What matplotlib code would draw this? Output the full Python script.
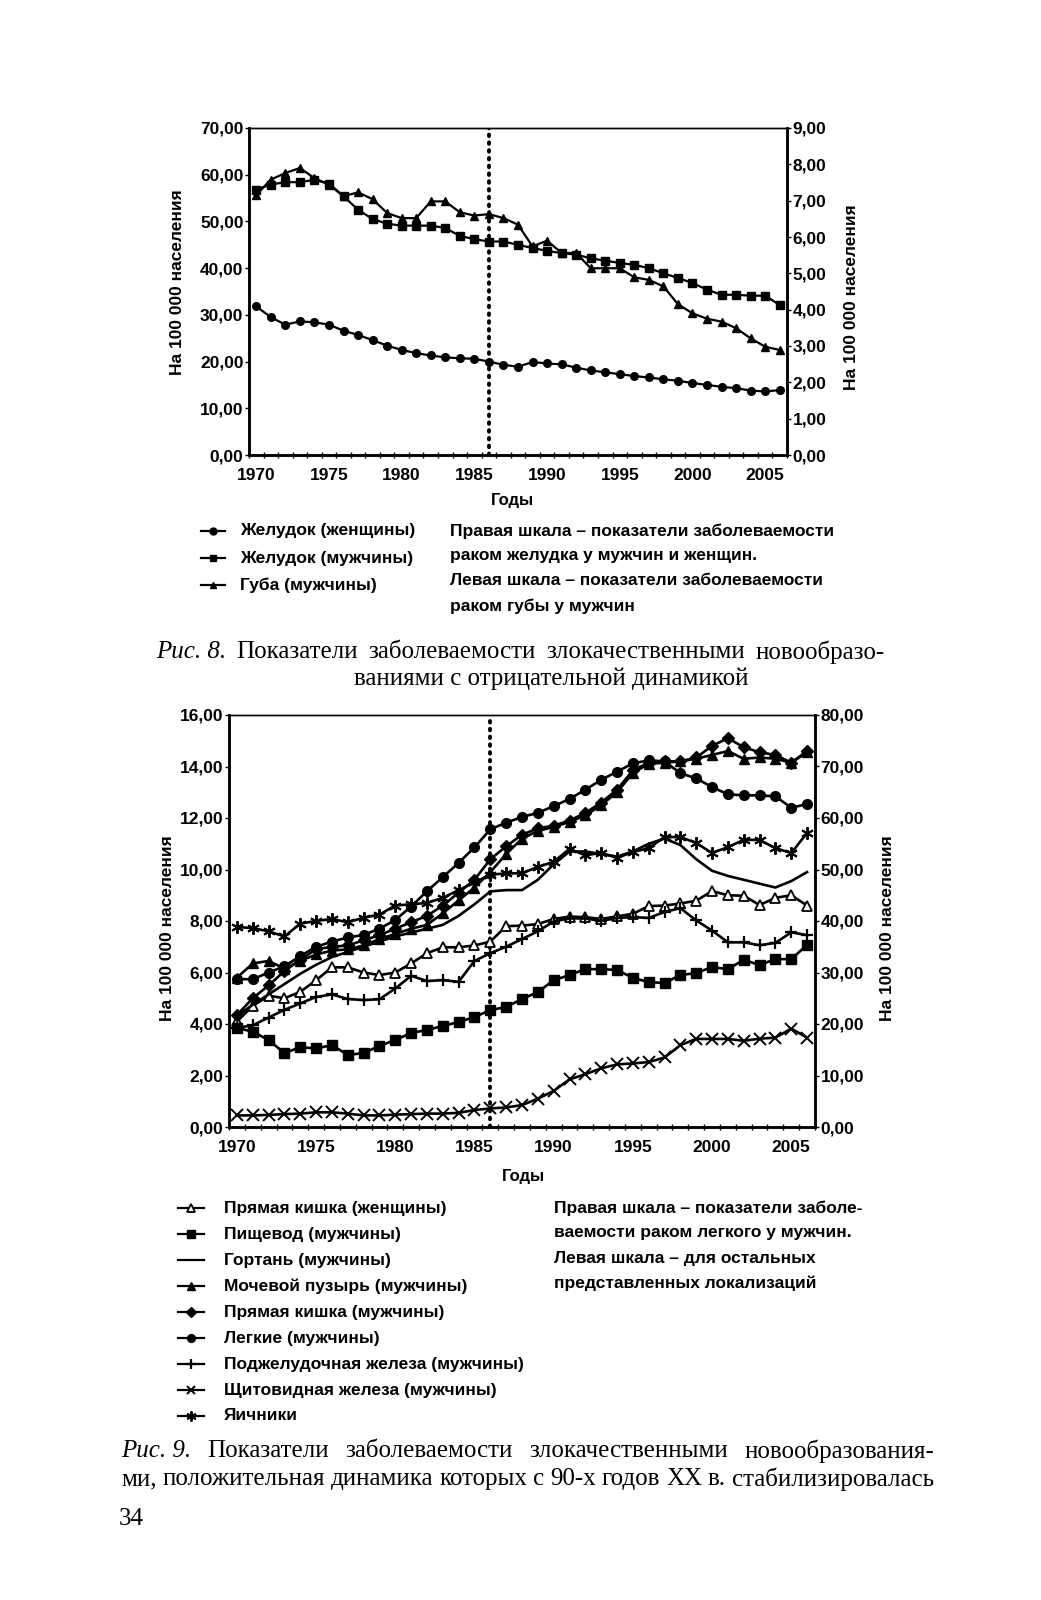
import matplotlib
matplotlib.use('Agg')
import matplotlib.pyplot as plt
from matplotlib.lines import Line2D
from matplotlib.ticker import FuncFormatter
import numpy as np

plt.rcParams['font.family'] = ['Liberation Sans', 'DejaVu Sans']

W, H = 1041, 1600

years = list(range(1970, 2007))

# Рис. 8 (левая шкала - желудок, правая - губа)
stomach_w = [31.8, 29.5, 27.9, 28.6, 28.4, 27.9, 26.6, 25.7, 24.6, 23.4, 22.5, 21.8, 21.3,
             20.9, 20.7, 20.6, 20.0, 19.3, 18.9, 19.9, 19.6, 19.4, 18.7, 18.1, 17.7, 17.3,
             16.9, 16.6, 16.2, 15.9, 15.4, 15.0, 14.6, 14.3, 13.8, 13.6, 13.9]
stomach_m = [56.8, 57.9, 58.4, 58.4, 58.9, 58.1, 55.4, 52.5, 50.5, 49.5, 49.1, 49.1, 49.1,
             48.6, 46.9, 46.2, 45.7, 45.7, 45.0, 44.3, 43.7, 43.2, 42.9, 42.1, 41.6, 41.1,
             40.7, 40.0, 38.9, 37.9, 36.8, 35.4, 34.3, 34.3, 34.1, 34.1, 32.1]
lip_m = [7.16, 7.58, 7.76, 7.90, 7.62, 7.44, 7.12, 7.23, 7.04, 6.66, 6.52, 6.52, 6.98,
         6.98, 6.68, 6.59, 6.63, 6.52, 6.34, 5.74, 5.90, 5.56, 5.56, 5.14, 5.14, 5.14,
         4.89, 4.82, 4.64, 4.15, 3.90, 3.75, 3.67, 3.49, 3.21, 2.98, 2.89]
labels8 = ['Желудок (женщины)', 'Желудок (мужчины)', 'Губа (мужчины)']
note8 = ['Правая шкала – показатели заболеваемости',
         'раком желудка у мужчин и женщин.',
         'Левая шкала – показатели заболеваемости',
         'раком губы у мужчин']

# Рис. 9 (правая шкала - легкие, левая - остальные)
rectum_w = [4.10, 4.70, 5.10, 5.00, 5.25, 5.70, 6.20, 6.20, 6.00, 5.90, 6.00, 6.35, 6.75,
            6.98, 6.98, 7.05, 7.20, 7.80, 7.82, 7.88, 8.08, 8.17, 8.15, 8.08, 8.18, 8.28,
            8.58, 8.60, 8.68, 8.79, 9.16, 9.00, 8.98, 8.62, 8.90, 9.00, 8.60]
esophagus = [3.85, 3.70, 3.38, 2.87, 3.10, 3.05, 3.18, 2.80, 2.87, 3.15, 3.38, 3.65, 3.77,
             3.92, 4.08, 4.27, 4.54, 4.66, 4.97, 5.24, 5.70, 5.90, 6.13, 6.13, 6.10, 5.79,
             5.63, 5.59, 5.90, 5.98, 6.21, 6.13, 6.49, 6.29, 6.52, 6.52, 7.07]
larynx = [4.30, 4.75, 5.15, 5.55, 5.95, 6.30, 6.60, 6.80, 7.00, 7.20, 7.40, 7.55, 7.70,
          7.85, 8.20, 8.65, 9.15, 9.20, 9.20, 9.60, 10.20, 10.70, 10.70, 10.60, 10.50, 10.70,
          11.00, 11.20, 10.95, 10.40, 9.95, 9.75, 9.60, 9.45, 9.30, 9.55, 9.90]
bladder = [5.80, 6.35, 6.45, 6.15, 6.45, 6.70, 6.85, 6.90, 7.05, 7.30, 7.50, 7.70, 7.85,
           8.30, 8.80, 9.30, 9.90, 10.60, 11.20, 11.50, 11.65, 11.85, 12.10, 12.50, 13.00, 13.75,
           14.10, 14.15, 14.20, 14.30, 14.45, 14.60, 14.30, 14.35, 14.30, 14.15, 14.55]
rectum_m = [4.35, 5.00, 5.50, 6.05, 6.50, 6.90, 7.00, 7.05, 7.25, 7.45, 7.70, 7.95, 8.20,
            8.60, 9.10, 9.60, 10.40, 10.90, 11.35, 11.60, 11.70, 11.90, 12.20, 12.60, 13.10, 13.85,
            14.15, 14.20, 14.20, 14.35, 14.80, 15.10, 14.75, 14.55, 14.45, 14.15, 14.60]
lung = [28.7, 28.7, 30.0, 31.2, 33.2, 35.0, 36.0, 36.8, 37.3, 38.5, 40.2, 42.8, 45.8,
        48.5, 51.3, 54.3, 57.8, 59.1, 60.2, 61.0, 62.3, 63.7, 65.5, 67.4, 69.0, 70.6,
        71.2, 71.0, 68.7, 67.7, 66.0, 64.6, 64.4, 64.4, 64.2, 62.0, 62.7]
pancreas = [3.85, 3.95, 4.25, 4.55, 4.80, 5.05, 5.15, 4.97, 4.93, 4.96, 5.38, 5.87, 5.67,
            5.70, 5.64, 6.45, 6.75, 7.00, 7.30, 7.60, 7.98, 8.10, 8.10, 8.00, 8.12, 8.15,
            8.12, 8.35, 8.50, 8.02, 7.63, 7.17, 7.17, 7.06, 7.15, 7.56, 7.45]
thyroid = [0.45, 0.45, 0.47, 0.50, 0.52, 0.57, 0.57, 0.52, 0.45, 0.45, 0.48, 0.50, 0.52,
           0.52, 0.55, 0.66, 0.72, 0.76, 0.85, 1.10, 1.40, 1.85, 2.05, 2.28, 2.43, 2.47,
           2.52, 2.70, 3.18, 3.42, 3.42, 3.42, 3.35, 3.43, 3.47, 3.82, 3.47]
ovaries = [7.77, 7.72, 7.60, 7.40, 7.90, 8.00, 8.08, 7.95, 8.13, 8.25, 8.60, 8.65, 8.70,
           8.90, 9.20, 9.50, 9.80, 9.85, 9.85, 10.10, 10.30, 10.80, 10.55, 10.65, 10.45, 10.68,
           10.83, 11.26, 11.26, 11.03, 10.64, 10.87, 11.15, 11.15, 10.83, 10.64, 11.42]
labels9 = ['Прямая кишка (женщины)', 'Пищевод (мужчины)', 'Гортань (мужчины)',
           'Мочевой пузырь (мужчины)', 'Прямая кишка (мужчины)', 'Легкие (мужчины)',
           'Поджелудочная железа (мужчины)', 'Щитовидная железа (мужчины)', 'Яичники']
note9 = ['Правая шкала – показатели заболе-',
         'ваемости раком легкого у мужчин.',
         'Левая шкала – для остальных',
         'представленных локализаций']

split_year = 1986
ylab = 'На 100 000 населения'


def fx(x):
    return x / W


def fy(y):
    return 1 - y / H


def comma(v, p):
    return ('%.2f' % v).replace('.', ',')


fig = plt.figure(figsize=(W / 100, H / 100), dpi=100)
fig.patch.set_facecolor('white')
tick_font = dict(fontsize=12.5, fontweight='bold')


def setup(ax, axr, ymax, ystep, rmax, rstep):
    n = len(years)
    ax.set_xlim(-0.5, n - 0.5)
    ax.set_ylim(0, ymax)
    axr.set_ylim(0, rmax)
    ax.set_yticks(np.arange(0, ymax + 0.01, ystep))
    axr.set_yticks(np.arange(0, rmax + 0.01, rstep))
    ax.yaxis.set_major_formatter(FuncFormatter(comma))
    axr.yaxis.set_major_formatter(FuncFormatter(comma))
    major = [i for i, y in enumerate(years) if y % 5 == 0]
    ax.set_xticks(major)
    ax.set_xticklabels([str(years[i]) for i in major])
    ax.set_xticks(np.arange(-0.5, n), minor=True)
    ax.tick_params(axis='x', which='major', length=0, pad=9)
    ax.tick_params(axis='x', which='minor', length=5, width=1, direction='inout')
    ax.tick_params(axis='y', length=3, width=1, pad=1)
    axr.tick_params(axis='y', length=3, width=1, pad=1)
    for lab in ax.get_xticklabels() + ax.get_yticklabels() + axr.get_yticklabels():
        lab.set_fontsize(tick_font['fontsize'])
        lab.set_fontweight(tick_font['fontweight'])
    for a in (ax, axr):
        a.spines['top'].set_linewidth(1.0)
        a.spines['left'].set_linewidth(1.8)
        a.spines['right'].set_linewidth(1.8)
        a.spines['bottom'].set_linewidth(1.8)
    ax.axvline(years.index(split_year), color='k', lw=2.8, ls=(0, (0.4, 1.6)),
               dash_capstyle='round', zorder=1)


# ---------- Рис. 8 ----------
ax1 = fig.add_axes([fx(249), fy(455), fx(538), 327 / H])
ax1r = ax1.twinx()
x = np.arange(len(years))
st = dict(color='k', lw=1.6, ms=5.5, mfc='k', mec='k')
l1, = ax1.plot(x, stomach_w, marker='o', **st)
l2, = ax1.plot(x, stomach_m, marker='s', **st)
l3, = ax1r.plot(x, lip_m, marker='^', **st)
setup(ax1, ax1r, 70, 10, 9, 1)

fig.text(fx(177), fy(282), ylab, rotation=90, ha='center', va='center', fontsize=12.5, fontweight='bold')
fig.text(fx(852), fy(297), ylab, rotation=90, ha='center', va='center', fontsize=12.5, fontweight='bold')
fig.text(fx(512), fy(500), 'Годы', ha='center', va='center', fontsize=12, fontweight='bold')

leg_y8 = [531, 558, 585]
for lab, ln, yy in zip(labels8, [l1, l2, l3], leg_y8):
    fig.add_artist(Line2D([fx(201), fx(213), fx(225)], [fy(yy)] * 3, color='k', lw=1.6,
                          marker=ln.get_marker(), markevery=[1], ms=5, mfc='k', mec='k',
                          transform=fig.transFigure))
    fig.text(fx(240), fy(yy), lab, ha='left', va='center', fontsize=12.5, fontweight='bold')
for i, t in enumerate(note8):
    fig.text(fx(450), fy(531 + i * 25), t, ha='left', va='center', fontsize=12.5, fontweight='bold')

# ---------- Рис. 9 ----------
ax2 = fig.add_axes([fx(229), fy(1127), fx(586), 412 / H])
ax2r = ax2.twinx()
st2 = dict(color='k', lw=1.9, mec='k')
h = []
h.append(ax2.plot(x, rectum_w, marker='^', ms=7, mfc='white', mew=1.3, **st2)[0])
h.append(ax2.plot(x, esophagus, marker='s', ms=7, mfc='k', **st2)[0])
h.append(ax2.plot(x, larynx, **st2)[0])
h.append(ax2.plot(x, bladder, marker='^', ms=7, mfc='k', **st2)[0])
h.append(ax2.plot(x, rectum_m, marker='D', ms=6, mfc='k', **st2)[0])
h.append(ax2r.plot(x, lung, marker='o', ms=7, mfc='k', **st2)[0])
h.append(ax2.plot(x, pancreas, marker='+', ms=9, mew=1.6, **st2)[0])
h.append(ax2.plot(x, thyroid, marker='x', ms=8, mew=1.4, **st2)[0])
h.append(ax2.plot(x, ovaries, marker=(6, 2, 0), ms=9, mew=1.4, **st2)[0])
setup(ax2, ax2r, 16, 2, 80, 10)

fig.text(fx(168), fy(928), ylab, rotation=90, ha='center', va='center', fontsize=12.5, fontweight='bold')
fig.text(fx(887), fy(928), ylab, rotation=90, ha='center', va='center', fontsize=12.5, fontweight='bold')
fig.text(fx(523), fy(1176), 'Годы', ha='center', va='center', fontsize=12, fontweight='bold')

for i, (lab, ln) in enumerate(zip(labels9, h)):
    yy = 1208 + i * 26
    mk = ln.get_marker()
    fig.add_artist(Line2D([fx(178), fx(191), fx(204)], [fy(yy)] * 3, color='k', lw=1.6,
                          marker=mk if mk != 'None' else None, markevery=[1],
                          ms=ln.get_markersize() * 0.8, mfc=ln.get_markerfacecolor(), mec='k',
                          mew=ln.get_markeredgewidth(), transform=fig.transFigure))
    fig.text(fx(224), fy(yy), lab, ha='left', va='center', fontsize=12.5, fontweight='bold')
for i, t in enumerate(note9):
    fig.text(fx(554), fy(1208 + i * 25), t, ha='left', va='center', fontsize=12.5, fontweight='bold')

# ---------- подписи ----------
renderer = fig.canvas.get_renderer()
serif = dict(family='Liberation Serif', fontsize=18.0, va='center')


def justify(prefix, words, x0, x1, y):
    # выравнивание строки по ширине: курсивный префикс + слова
    items = []
    if prefix:
        items.append(fig.text(0, 0, prefix, style='italic', **serif))
    for w in words:
        items.append(fig.text(0, 0, w, **serif))
    widths = [t.get_window_extent(renderer).width for t in items]
    gap = (x1 - x0 - sum(widths)) / (len(items) - 1)
    pos = x0
    for t, wd in zip(items, widths):
        t.set_position((fx(pos), fy(y)))
        pos += wd + gap


justify('Рис. 8.', 'Показатели заболеваемости злокачественными новообразо-'.split(), 156, 885, 652)
fig.text(fx(551), fy(679), 'ваниями с отрицательной динамикой', ha='center', **serif)
justify('Рис. 9.', 'Показатели заболеваемости злокачественными новообразования-'.split(), 121, 934, 1451)
justify('', 'ми, положительная динамика которых с 90-х годов XX в. стабилизировалась'.split(),
        121, 934, 1479)
fig.text(fx(119), fy(1519), '34', ha='left', **serif)

fig.savefig('out.png', dpi=100, facecolor='white')
